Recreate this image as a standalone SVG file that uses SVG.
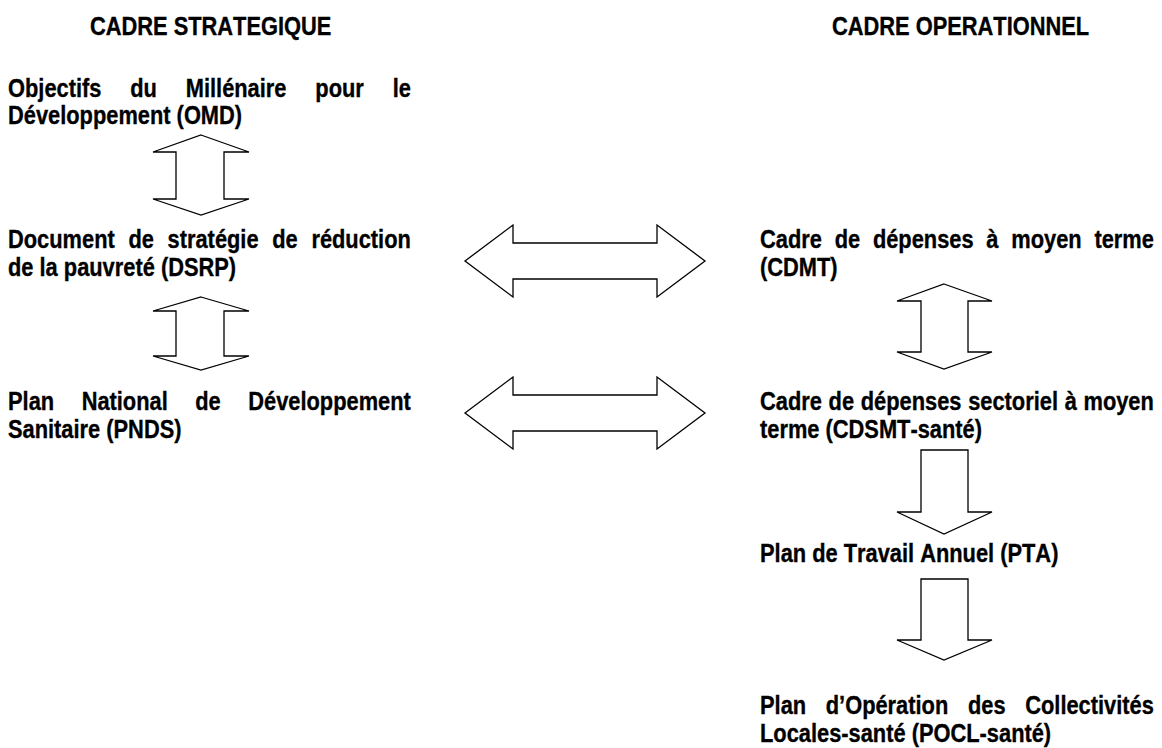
<svg xmlns="http://www.w3.org/2000/svg" width="1162" height="748" viewBox="0 0 1162 748">
<style>
text{font-family:"Liberation Sans",Arial,sans-serif;font-weight:bold;font-size:26px;fill:#000;stroke:#000;stroke-width:0.35;font-kerning:none;white-space:pre}
.arrow{fill:#fff;stroke:#000;stroke-width:1.3;stroke-linejoin:miter}
</style>
<rect width="1162" height="748" fill="#fff"/>
<g id="title-strategique"><text transform="translate(90,35) scale(0.84,1)">CADRE STRATEGIQUE</text></g>
<g id="title-operationnel"><text transform="translate(832,35) scale(0.84,1)">CADRE OPERATIONNEL</text></g>

<g id="node-omd">
<text transform="translate(8,97) scale(0.84,1)" style="word-spacing:27.11px">Objectifs du Millénaire pour le</text>
<text transform="translate(8,124) scale(0.84,1)">Développement (OMD)</text>
</g>
<g id="node-dsrp">
<text transform="translate(8,248) scale(0.84,1)" style="word-spacing:9.06px">Document de stratégie de réduction</text>
<text transform="translate(8,276) scale(0.84,1)">de la pauvreté (DSRP)</text>
</g>
<g id="node-pnds">
<text transform="translate(8,410) scale(0.84,1)" style="word-spacing:25.55px">Plan National de Développement</text>
<text transform="translate(8,438) scale(0.84,1)">Sanitaire (PNDS)</text>
</g>
<g id="node-cdmt">
<text transform="translate(760,248) scale(0.84,1)" style="word-spacing:7.98px">Cadre de dépenses à moyen terme</text>
<text transform="translate(760,276) scale(0.84,1)">(CDMT)</text>
</g>
<g id="node-cdsmt">
<text transform="translate(760,410) scale(0.84,1)" style="word-spacing:0.75px">Cadre de dépenses sectoriel à moyen</text>
<text transform="translate(760,438) scale(0.84,1)">terme (CDSMT-santé)</text>
</g>
<g id="node-pta">
<text transform="translate(760,562) scale(0.84,1)">Plan de Travail Annuel (PTA)</text>
</g>
<g id="node-pocl">
<text transform="translate(760,714) scale(0.84,1)" style="word-spacing:16.19px">Plan d’Opération des Collectivités</text>
<text transform="translate(760,742) scale(0.84,1)">Locales-santé (POCL-santé)</text>
</g>

<g id="connectors">
<polygon class="arrow" points="201,135 249,152 224,152 224,199 249,199 201,215 153,199 176,199 176,152 153,152"/>
<polygon class="arrow" points="201,297 249,311 224,311 224,356 249,356 201,370 153,356 176,356 176,311 153,311"/>
<polygon class="arrow" points="465,261 513,225 513,243 657,243 657,225 705,261 657,297 657,279 513,279 513,297"/>
<polygon class="arrow" points="465,413 513,377 513,395 657,395 657,377 705,413 657,449 657,431 513,431 513,449"/>
<polygon class="arrow" points="944,284 992,301 968,301 968,352 992,352 944,369 897,352 921,352 921,301 897,301"/>
<polygon class="arrow" points="921,450 968,450 968,512 992,512 944,534 897,512 921,512"/>
<polygon class="arrow" points="921,579 968,579 968,640 992,640 944,660 897,640 921,640"/>
</g>
</svg>
